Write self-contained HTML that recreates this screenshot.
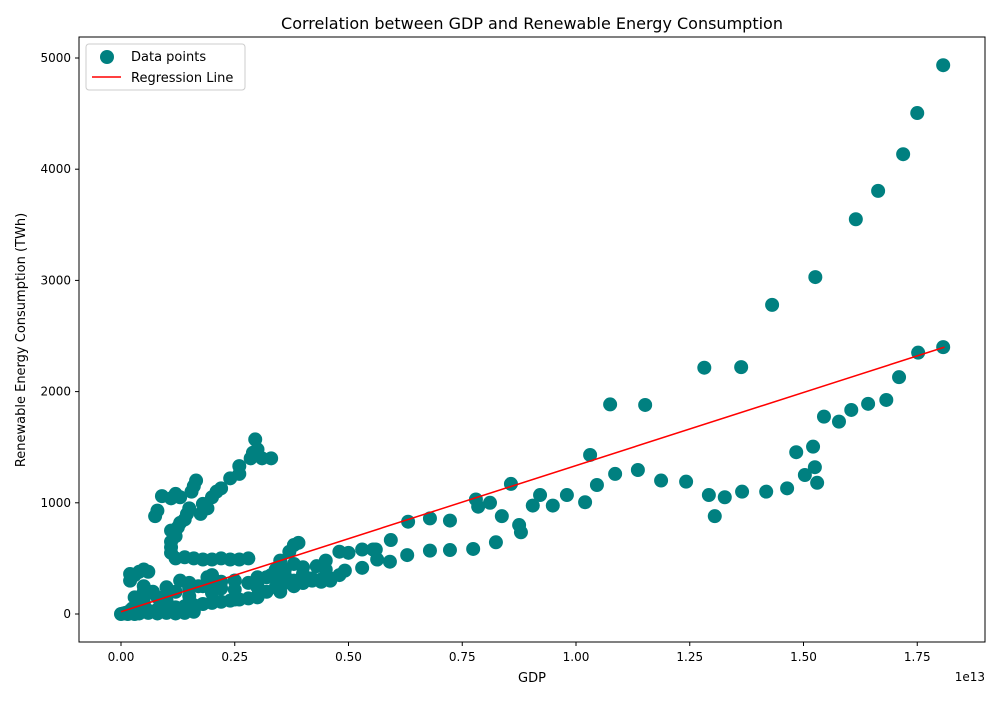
<!DOCTYPE html>
<html><head><meta charset="utf-8"><style>
body{margin:0;background:#fff;font-family:"Liberation Sans","DejaVu Sans",sans-serif}
svg text{font-family:"DejaVu Sans","Liberation Sans",sans-serif}
</style></head><body>
<svg id="chart" width="1000" height="700" xmlns="http://www.w3.org/2000/svg">
<rect width="1000" height="700" fill="#fff"/>
<text x="532" y="29" font-size="16" text-anchor="middle">Correlation between GDP and Renewable Energy Consumption</text>
<g id="marks"></g>
<rect x="79" y="37" width="906" height="605" fill="none" stroke="#000" stroke-width="1"/>
<g id="axes"></g>
<text x="532" y="682" font-size="13" text-anchor="middle">GDP</text>
<text x="985" y="681" font-size="12" text-anchor="end">1e13</text>
<text transform="translate(25,340) rotate(-90)" font-size="13" text-anchor="middle">Renewable Energy Consumption (TWh)</text>
<g>
<rect x="86" y="44" width="159" height="46" rx="3" fill="#fff" fill-opacity="0.8" stroke="#ccc"/>
<circle cx="107" cy="57" r="7" fill="#008080"/>
<text x="131" y="61" font-size="13">Data points</text>
<line x1="92" y1="77" x2="121" y2="77" stroke="red" stroke-width="1.5"/>
<text x="131" y="82" font-size="13">Regression Line</text>
</g>
</svg>
<script>
const gdp=[1.807,1.75,1.719,1.664,1.615,1.526,1.431,1.363,1.282,1.152,1.075,1.031,
1.807,1.752,1.71,1.682,1.642,1.605,1.578,1.545,1.521,1.525,1.530,1.503,1.484,1.464,1.418,1.365,1.327,1.305,1.292,1.242,1.187,1.136,1.086,1.046,1.020,0.980,0.949,0.921,0.905,0.879,0.875,0.857,0.837,0.811,0.785,0.780,0.824,0.774,0.723,0.679,0.629,0.679,0.723,0.631,0.593,0.591,0.563,0.554,0.530,0.492,
0.02,0.04,0.06,0.08,0.1,0.12,0.14,0.16,0.18,0.2,0.22,0.24,0.26,0.28,0.3,0.32,0.34,0.36,0.38,0.4,0.42,0.44,0.46,0.48,
0.05,0.08,0.1,0.12,0.15,0.18,0.2,0.22,0.25,0.28,0.3,0.33,0.36,0.38,0.4,0.43,0.45,0.48,0.5,0.53,0.56,
0.12,0.14,0.16,0.18,0.2,0.22,0.24,0.26,0.28,0.13,0.15,0.17,0.19,0.2,0.22,
0.11,0.12,0.125,0.13,0.14,0.145,0.15,0.155,0.16,0.165,0.13,0.11,0.09,0.08,0.075,0.12,0.18,0.19,0.175,0.2,0.21,0.22,0.24,0.26,0.26,0.285,0.29,0.295,0.3,0.31,0.33,
0,0.005,0.01,0.015,0.02,0.025,0.03,0.035,0.04,0.02,0.03,0.02,0.04,0.05,0.06,0.05,0.07,0.03,0.04,0.06,0.08,0.1,0.12,0.14,0.16,
0.3,0.32,0.34,0.36,0.38,0.4,0.42,0.44,0.46,0.38,0.39,0.37,0.35,
0.05,0.05,0.05,0.05,0.1,0.1,0.1,0.1,0.15,0.15,0.15,0.2,0.2,0.2,0.25,0.25,0.25,0.3,0.3,0.3,0.35,0.35,0.35,0.4,0.4,0.45,0.45,0.11,0.11,0.11];
const twh=[4935,4505,4135,3805,3550,3030,2780,2220,2215,1880,1885,1430,
2400,2350,2130,1925,1890,1835,1730,1775,1505,1320,1180,1250,1455,1130,1100,1100,1050,880,1070,1190,1200,1295,1260,1160,1005,1070,975,1070,975,735,800,1170,880,1000,965,1030,645,585,575,570,530,860,840,830,665,470,490,580,415,390,
10,20,30,40,50,60,70,80,90,100,110,120,130,140,160,200,240,280,300,320,300,310,320,350,
100,150,180,200,230,250,270,290,300,280,300,350,400,450,420,430,480,560,550,580,580,
500,510,500,490,490,500,490,490,500,300,280,250,330,350,230,
600,700,780,820,850,900,950,1100,1150,1200,1050,1040,1060,930,880,1080,990,950,900,1050,1100,1130,1220,1260,1330,1400,1450,1570,1480,1400,1400,
0,5,10,0,30,50,0,80,100,300,350,360,380,400,380,250,200,150,5,10,5,10,5,10,20,
250,330,400,350,250,280,320,290,300,620,640,560,480,
50,100,150,200,60,120,180,240,80,160,240,110,190,270,130,220,300,150,240,330,200,300,380,280,360,330,400,550,650,750];
const regX=[0,1.81];
const regY=[20,2400];
const xTicks=[0,0.25,0.5,0.75,1.0,1.25,1.5,1.75];
const xTickLabels=["0.00","0.25","0.50","0.75","1.00","1.25","1.50","1.75"];
const yTicks=[0,1000,2000,3000,4000,5000];
const yTickLabels=["0","1000","2000","3000","4000","5000"];
const X=v=>121+v*455, Y=v=>614-v*0.1112;
const NS="http://www.w3.org/2000/svg";
const marks=document.getElementById('marks'), axes=document.getElementById('axes');
for(let i=0;i<gdp.length;i++){
 const c=document.createElementNS(NS,'circle');
 c.setAttribute('cx',X(gdp[i]));c.setAttribute('cy',Y(twh[i]));c.setAttribute('r',7);c.setAttribute('fill','#008080');
 
 
 marks.appendChild(c);
}
const l=document.createElementNS(NS,'line');
l.setAttribute('x1',X(regX[0]));l.setAttribute('y1',Y(regY[0]));l.setAttribute('x2',X(regX[1]));l.setAttribute('y2',Y(regY[1]));
l.setAttribute('stroke','red');l.setAttribute('stroke-width','1.5');


marks.appendChild(l);
xTicks.forEach((t,i)=>{
 const tk=document.createElementNS(NS,'line');
 tk.setAttribute('x1',X(t));tk.setAttribute('x2',X(t));tk.setAttribute('y1',642);tk.setAttribute('y2',646);tk.setAttribute('stroke','#000');
 
 
 axes.appendChild(tk);
 const tx=document.createElementNS(NS,'text');
 tx.setAttribute('x',X(t));tx.setAttribute('y',661);tx.setAttribute('font-size','12');tx.setAttribute('text-anchor','middle');
 tx.textContent=xTickLabels[i];
 
 
 axes.appendChild(tx);
});
yTicks.forEach((t,i)=>{
 const tk=document.createElementNS(NS,'line');
 tk.setAttribute('x1',75);tk.setAttribute('x2',79);tk.setAttribute('y1',Y(t));tk.setAttribute('y2',Y(t));tk.setAttribute('stroke','#000');
 
 
 axes.appendChild(tk);
 const tx=document.createElementNS(NS,'text');
 tx.setAttribute('x',71);tx.setAttribute('y',Y(t)+4);tx.setAttribute('font-size','12');tx.setAttribute('text-anchor','end');
 tx.textContent=yTickLabels[i];
 
 
 axes.appendChild(tx);
});
</script>
</body></html>
